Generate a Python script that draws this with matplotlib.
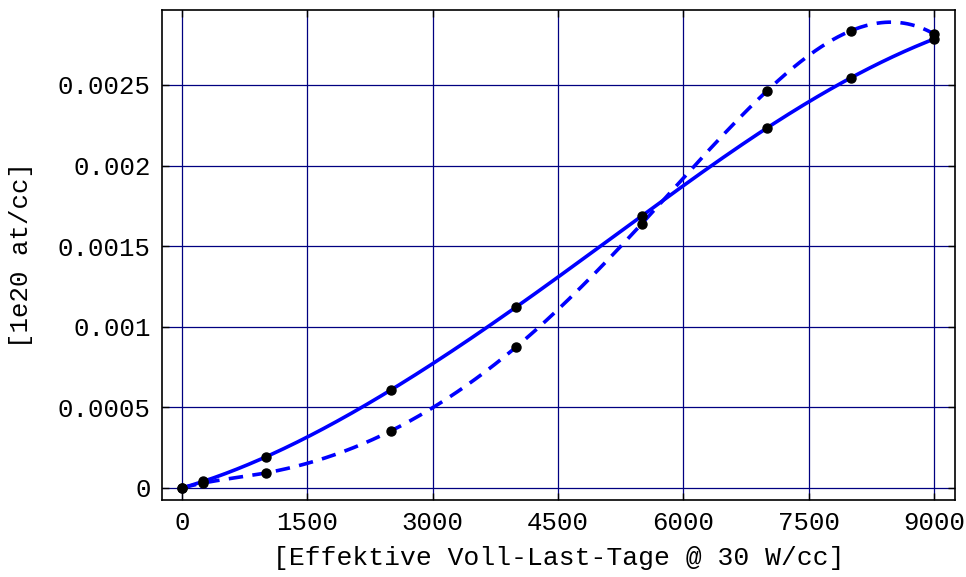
import numpy as np
import matplotlib
matplotlib.use("Agg")
import matplotlib.pyplot as plt

# Data
days = [0, 250, 1000, 2500, 4000, 5500, 7000, 8000, 9000]
solid_vals = [0.0, 0.00004, 0.000192, 0.000608, 0.001123, 0.001687, 0.002233, 0.002543, 0.002785]
dashed_vals = [0.0, 0.00003, 0.000093, 0.000354, 0.000875, 0.001638, 0.002463, 0.002835, 0.002816]
xticks = [0, 1500, 3000, 4500, 6000, 7500, 9000]
yticks = [0, 0.0005, 0.001, 0.0015, 0.002, 0.0025]
ytick_labels = ["0", "0.0005", "0.001", "0.0015", "0.002", "0.0025"]


def spline(x, y, n=400):
    x = np.asarray(x, float)
    y = np.asarray(y, float)
    k = len(x)
    h = np.diff(x)
    A = np.zeros((k, k))
    b = np.zeros(k)
    # not-a-knot end conditions
    A[0, 0] = -h[1]
    A[0, 1] = h[0] + h[1]
    A[0, 2] = -h[0]
    A[-1, -3] = -h[-1]
    A[-1, -2] = h[-2] + h[-1]
    A[-1, -1] = -h[-2]
    for i in range(1, k - 1):
        A[i, i - 1] = h[i - 1]
        A[i, i] = 2 * (h[i - 1] + h[i])
        A[i, i + 1] = h[i]
        b[i] = 3 * ((y[i + 1] - y[i]) / h[i] - (y[i] - y[i - 1]) / h[i - 1])
    c = np.linalg.solve(A, b)
    xs = np.linspace(x[0], x[-1], n)
    ys = np.empty_like(xs)
    for j, xv in enumerate(xs):
        i = min(np.searchsorted(x, xv, side="right") - 1, k - 2)
        dx = xv - x[i]
        bi = (y[i + 1] - y[i]) / h[i] - h[i] * (2 * c[i] + c[i + 1]) / 3
        di = (c[i + 1] - c[i]) / (3 * h[i])
        ys[j] = y[i] + bi * dx + c[i] * dx ** 2 + di * dx ** 3
    return xs, ys


font = "Liberation Mono"
plt.rcParams["font.family"] = [font, "DejaVu Sans Mono"]

fig = plt.figure(figsize=(9.66, 5.77), dpi=100)
ax = fig.add_axes([0.1677, 0.1334, 0.8209, 0.8493])

ax.set_xlim(-240, 9250)
ax.set_ylim(-0.000075, 0.002965)

for xt in xticks:
    ax.axvline(xt, color="#000080", lw=0.9, zorder=1)
for yt in yticks:
    ax.axhline(yt, color="#000080", lw=0.9, zorder=1)

xs, ys = spline(days, solid_vals)
ax.plot(xs, ys, color="#0000ff", lw=2.6, zorder=3)
xs, ys = spline(days, dashed_vals)
ax.plot(xs, ys, color="#0000ff", lw=2.6, dashes=(4, 2.6), zorder=3)

ax.plot(days, solid_vals, "o", color="black", ms=6.5, zorder=4)
ax.plot(days, dashed_vals, "o", color="black", ms=6.5, zorder=4)

ax.set_xticks(xticks)
ax.set_xticklabels([str(v) for v in xticks])
ax.set_yticks(yticks)
ax.set_yticklabels(ytick_labels)
ax.tick_params(direction="in", length=5, width=1, labelsize=18.5, pad=8,
               top=True, right=True, colors="black")
for s in ax.spines.values():
    s.set_linewidth(1.2)

ax.set_xlabel("[Effektive Voll-Last-Tage @ 30 W/cc]", fontsize=19, labelpad=8)
ax.set_ylabel("[1e20 at/cc]", fontsize=18.5, labelpad=18)

fig.savefig("out.png", dpi=100)
